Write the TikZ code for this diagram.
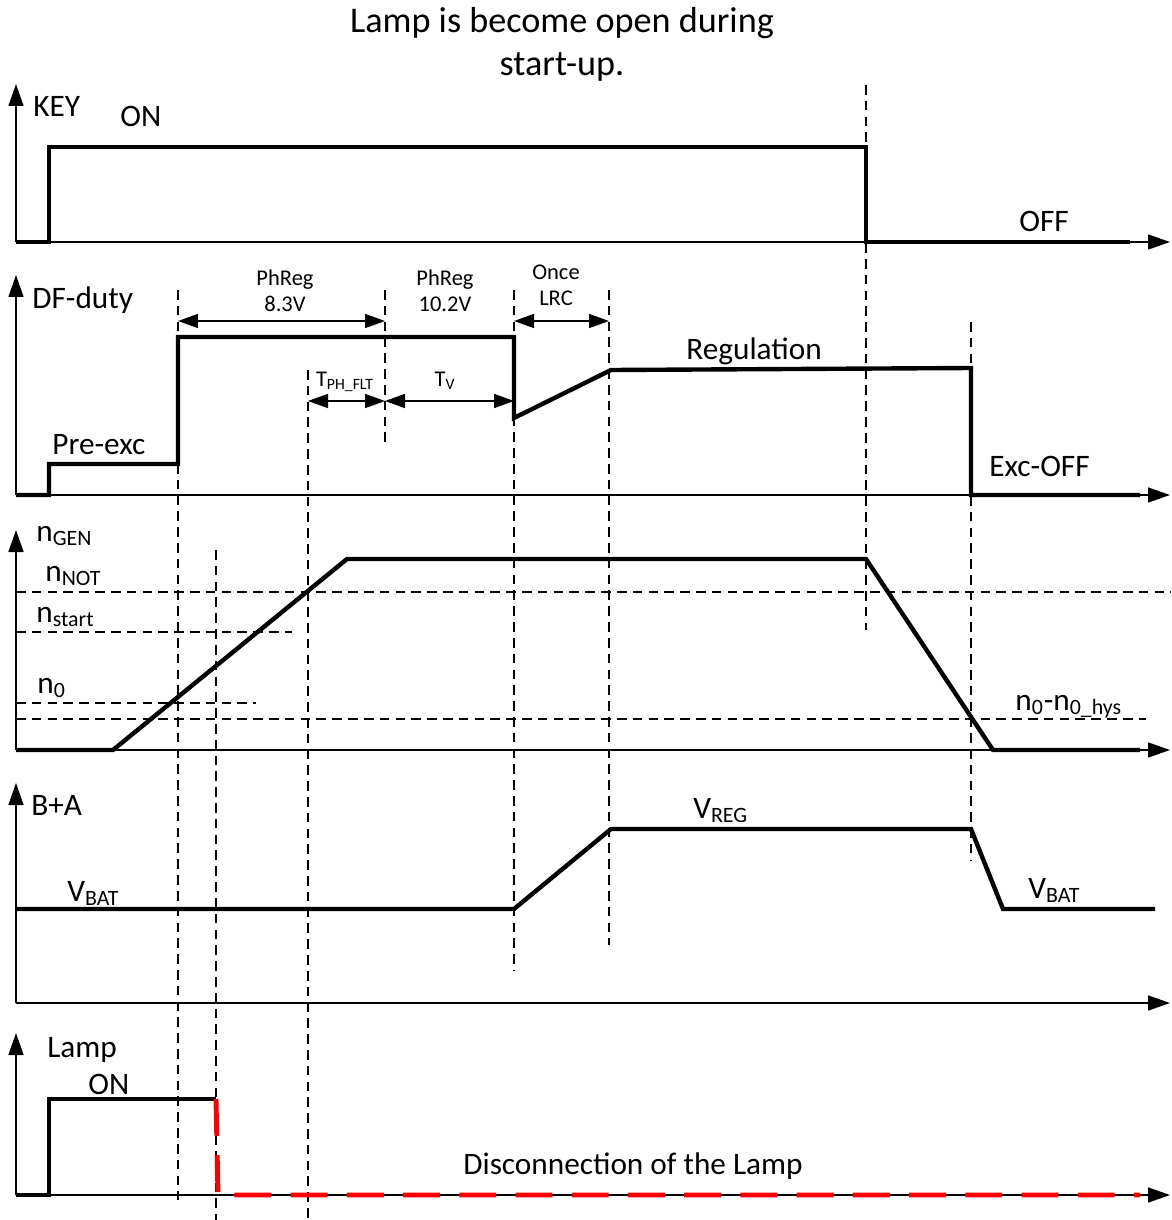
\documentclass[tikz,border=0pt]{standalone}
\usepackage{fontspec}
\setmainfont{Carlito}
\usetikzlibrary{arrows.meta}

\begin{document}
\begin{tikzpicture}[
  x=0.02cm,y=-0.02cm,
  axis/.style={draw=black,line width=.9pt,-{Triangle[length=4.4mm,width=3mm]}},
  signal/.style={draw=black,line width=2.5pt,line join=miter},
  lampoff/.style={draw=red,line width=2.8pt,dash pattern=on 21pt off 11pt},
  guide/.style={draw=black,line width=.7pt,dash pattern=on 5.5pt off 3.5pt},
  dim/.style={draw=black,line width=.9pt,
    {Triangle[length=4mm,width=2.8mm]}-{Triangle[length=4mm,width=2.8mm]}},
  lbl/.style={font=\fontsize{17.8}{20}\selectfont,anchor=base west,inner sep=0pt},
  small/.style={font=\fontsize{12.8}{15}\selectfont,anchor=base,inner sep=0pt},
  ttl/.style={font=\fontsize{20.6}{24}\selectfont,anchor=base,inner sep=0pt}
]
  \useasboundingbox (0,0) rectangle (1171,1220);

  % title
  \node[ttl] (title1) at (562,33) {Lamp is become open during};
  \node[ttl] (title2) at (562,76) {start-up.};

  % time marks
  \foreach \n/\x in {tA/178,tB/216,tC/308,tD/385,tE/514,tF/609,tG/866,tH/971}
    {\coordinate (\n) at (\x,0);}

  % guides
  \draw[guide] (tA |- 0,290) -- (tA |- 0,1200);
  \draw[guide] (tB |- 0,550) -- (tB |- 0,1220);
  \draw[guide] (tC |- 0,370) -- (tC |- 0,1220);
  \draw[guide] (tD |- 0,290) -- (tD |- 0,445);
  \draw[guide] (tE |- 0,290) -- (tE |- 0,970);
  \draw[guide] (tF |- 0,290) -- (tF |- 0,945);
  \draw[guide] (tG |- 0,85) -- (tG |- 0,630);
  \draw[guide] (tH |- 0,322) -- (tH |- 0,860);
  \draw[guide] (16,592) -- (1171,592);
  \draw[guide] (16,632) -- (292,632);
  \draw[guide] (16,703) -- (256,703);
  \draw[guide] (16,719) -- (1146,719);

  % KEY
  \draw[axis] (16,242) -- (16,84);
  \draw[axis] (16,242) -- (1170,242);
  \draw[signal] (16,242) -- (49,242) -- (49,147) -- (866,147) -- (866,242) -- (1130,242);
  \node[lbl] (key) at (33,116) {KEY};
  \node[lbl] (keyon) at (120,127) {ON};
  \node[lbl] (keyoff) at (1019,231) {OFF};

  % DF-duty
  \draw[axis] (16,495) -- (16,275);
  \draw[axis] (16,495) -- (1170,495);
  \draw[signal] (16,495) -- (49,495) -- (49,464) -- (178,464) -- (178,337) -- (514,337)
    -- (514,418) -- (611,370) -- (971,368) -- (971,495) -- (1140,495);
  \node[lbl] (df) at (32,308) {DF-duty};
  \node[lbl] (preexc) at (52,454) {Pre-exc};
  \node[lbl] (reg) at (686,359) {Regulation};
  \node[lbl] (excoff) at (989,476) {Exc-OFF};
  \draw[dim] (tA |- 0,321) -- (tD |- 0,321);
  \draw[dim] (tE |- 0,321) -- (tF |- 0,321);
  \draw[dim] (tC |- 0,401) -- (tD |- 0,401);
  \draw[dim] (tD |- 0,401) -- (tE |- 0,401);
  \node[small] (ph1) at (285,285) {PhReg};
  \node[small] (ph1v) at (285,311) {8.3V};
  \node[small] (ph2) at (445,285) {PhReg};
  \node[small] (ph2v) at (445,311) {10.2V};
  \node[small] (lrc1) at (556,279) {Once};
  \node[small] (lrc2) at (556,305) {LRC};
  \node[small] (tph) at (345,386) {T\textsubscript{PH\_FLT}};
  \node[small] (tv) at (445,386) {T\textsubscript{V}};

  % n_GEN
  \draw[axis] (16,750) -- (16,530);
  \draw[axis] (16,750) -- (1170,750);
  \draw[signal] (16,750) -- (113,750) -- (347,559) -- (866,559) -- (993,750) -- (1140,750);
  \node[lbl] (ngen) at (36,541) {n\textsubscript{GEN}};
  \node[lbl] (nnot) at (45,581) {n\textsubscript{NOT}};
  \node[lbl] (nstart) at (36,622) {n\textsubscript{start}};
  \node[lbl] (nzero) at (37,693) {n\textsubscript{0}};
  \node[lbl] (nhys) at (1015,710) {n\textsubscript{0}-n\textsubscript{0\_hys}};

  % B+A
  \draw[axis] (16,1003) -- (16,783);
  \draw[axis] (16,1003) -- (1170,1003);
  \draw[signal] (16,909) -- (514,909) -- (611,829) -- (971,829) -- (1003,909) -- (1155,909);
  \node[lbl] (ba) at (31,815) {B+A};
  \node[lbl] (vbat1) at (67,901) {V\textsubscript{BAT}};
  \node[lbl] (vreg) at (693,818) {V\textsubscript{REG}};
  \node[lbl] (vbat2) at (1028,898) {V\textsubscript{BAT}};

  % Lamp
  \draw[axis] (16,1195) -- (16,1033);
  \draw[axis] (16,1195) -- (1170,1195);
  \draw[signal] (16,1195) -- (49,1195) -- (49,1099) -- (216,1099);
  \draw[lampoff] (216,1099) -- (218,1195) -- (1140,1195);
  \node[lbl] (lamp) at (47,1057) {Lamp};
  \node[lbl] (lampon) at (88,1094) {ON};
  \node[lbl] (disc) at (463,1174) {Disconnection of the Lamp};
\end{tikzpicture}
\end{document}
